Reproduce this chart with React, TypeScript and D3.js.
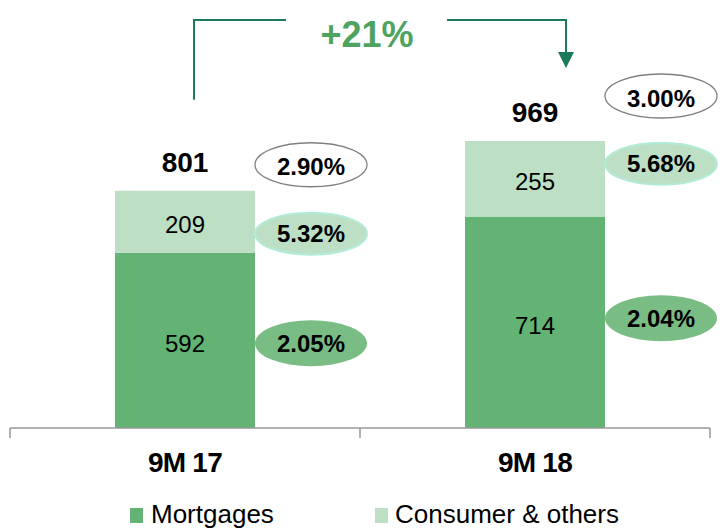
import React from "react";
import * as d3 from "d3";

const categories = ["9M 17", "9M 18"];
const mortgages = [592, 714];
const consumer = [209, 255];
const totals = [801, 969];
const rateTotal = ["2.90%", "3.00%"];
const rateConsumer = ["5.32%", "5.68%"];
const rateMortgage = ["2.05%", "2.04%"];
const growthLabel = "+21%";
const seriesNames = ["Mortgages", "Consumer & others"];

const W = 720;
const H = 530;
const C_MORT = "#63b374";
const C_CONS = "#bde0c5";
const FONT = "'Liberation Sans', Arial, sans-serif";

// ellipse vertical offsets (layout only)
const totalEllDy = [2, -17];
const consEllDy = [12, -15];
const mortEllDy = [3, -4];

export default function App() {
  const x = d3.scaleBand<string>().domain(categories).range([10, 710]).padding(0);
  const y = d3.scaleLinear().domain([0, 969]).range([428, 141]);
  const barW = x.bandwidth() * 0.4;
  const baseY = y(0);

  return (
    <svg width={W} height={H} style={{ position: "absolute", left: 0, top: 0 }} fontFamily={FONT}>
      <rect width={W} height={H} fill="#fff" />
      {categories.map((c, i) => {
        const cx = x(c)! + x.bandwidth() / 2;
        const x0 = cx - barW / 2;
        const yM = y(mortgages[i]);
        const yT = y(totals[i]);
        const ex = x0 + barW + 56;
        const eTot = yT - 28 + totalEllDy[i];
        const eCons = (yM + yT) / 2 + consEllDy[i];
        const eMort = (baseY + yM) / 2 + mortEllDy[i];
        return (
          <g key={c}>
            <rect x={x0} y={yM} width={barW} height={baseY - yM} fill={C_MORT} />
            <rect x={x0} y={yT} width={barW} height={yM - yT} fill={C_CONS} />
            <text x={cx} y={(baseY + yM) / 2 + 3} dy="0.36em" textAnchor="middle" fontSize={24}>{mortgages[i]}</text>
            <text x={cx} y={(yM + yT) / 2 + 3} dy="0.36em" textAnchor="middle" fontSize={24}>{consumer[i]}</text>
            <text x={cx} y={yT - 19} textAnchor="middle" fontSize={28} fontWeight="bold">{totals[i]}</text>
            <ellipse cx={ex} cy={eTot} rx={56} ry={22} fill="#fff" stroke="#7f7f7f" strokeWidth={1.3} />
            <text x={ex} y={eTot + 2} dy="0.36em" textAnchor="middle" fontSize={24} fontWeight="bold">{rateTotal[i]}</text>
            <ellipse cx={ex} cy={eCons} rx={56} ry={21} fill={C_CONS} stroke="#b2ecd8" strokeWidth={2} />
            <text x={ex} y={eCons} dy="0.36em" textAnchor="middle" fontSize={24} fontWeight="bold">{rateConsumer[i]}</text>
            <ellipse cx={ex} cy={eMort} rx={56} ry={23} fill="#79bd84" />
            <text x={ex} y={eMort} dy="0.36em" textAnchor="middle" fontSize={24} fontWeight="bold">{rateMortgage[i]}</text>
            <text x={cx} y={472} textAnchor="middle" fontSize={28} fontWeight="bold" letterSpacing={-0.8}>{c}</text>
          </g>
        );
      })}
      {/* axis */}
      <line x1={10} x2={710} y1={baseY} y2={baseY} stroke="#999" strokeWidth={1.5} />
      {[10, 360, 710].map((tx) => (
        <line key={tx} x1={tx} x2={tx} y1={baseY} y2={baseY + 10} stroke="#999" strokeWidth={1.5} />
      ))}
      {/* growth arrow */}
      {(() => {
        const lx = x(categories[0])! + x.bandwidth() / 2 + 9;
        const rx = x(categories[1])! + x.bandwidth() / 2 + 31;
        const topY = 20;
        const col = "#1a7a5a";
        return (
          <g>
            <polyline points={`${lx},${y(totals[0]) - 91} ${lx},${topY} ${lx + 92},${topY}`} fill="none" stroke={col} strokeWidth={2} />
            <polyline points={`${rx - 119},${topY} ${rx},${topY} ${rx},${54}`} fill="none" stroke={col} strokeWidth={2} />
            <polygon points={`${rx - 8},${52} ${rx + 8},${52} ${rx},${68}`} fill={col} />
            <text x={367} y={47} textAnchor="middle" fontSize={36} fontWeight="bold" fill="#4ea35f">{growthLabel}</text>
          </g>
        );
      })()}
      {/* legend */}
      <rect x={130} y={508} width={13} height={15} fill={C_MORT} />
      <text x={151} y={523} fontSize={26}>{seriesNames[0]}</text>
      <rect x={375} y={508} width={13} height={15} fill={C_CONS} />
      <text x={395} y={523} fontSize={26}>{seriesNames[1]}</text>
    </svg>
  );
}
